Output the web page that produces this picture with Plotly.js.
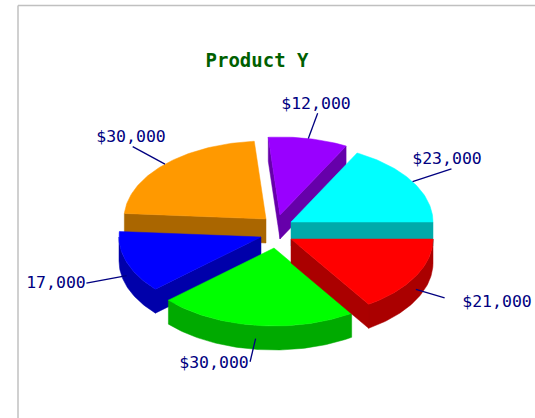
<!DOCTYPE html>
<html>
<head>
<meta charset="utf-8">
<script src="https://cdn.plot.ly/plotly-3.0.1.min.js"></script>
<style>html,body{margin:0;padding:0;background:#fff;overflow:hidden}#chart{width:535px;height:418px}</style>
</head>
<body>
<div id="chart"></div>
<script>
// ---- data, clockwise from the 3 o'clock direction ----
var categories = ['Red', 'Green', 'Blue', 'Orange', 'Purple', 'Cyan'];
var values = [21000, 30000, 17000, 30000, 12000, 23000];
var sliceLabels = ['$21,000', '$30,000', '17,000', '$30,000', '$12,000', '$23,000'];
var topColors = ['#ff0000', '#00ff00', '#0000ff', '#ff9900', '#9900ff', '#00ffff'];
var wallColors = ['#aa0000', '#00aa00', '#0000aa', '#aa6600', '#6600aa', '#00aaaa'];

// ---- pie geometry (in plot units, which equal pixels here) ----
var RX = 142, RY = 78, DEPTH = 24;
var apexX = [291, 274, 261, 266, 280, 291];
var apexY = [239, 248, 237, 219, 215, 222];
var labelX = [497, 214, 56, 131, 316, 447];
var labelY = [303, 364, 284, 138, 105, 160];
var leaderT = [0.23, 0.3, 0.3, 0.32, 0.33, 0.32];
var drawOrder = [3, 4, 5, 2, 1, 0];

var total = values.reduce(function (a, b) { return a + b; }, 0);
var starts = [], ends = [], acc = 0;
values.forEach(function (v) {
  starts.push(acc / total * 2 * Math.PI);
  acc += v;
  ends.push(acc / total * 2 * Math.PI);
});

function pt(i, a, dz) {
  return [apexX[i] + RX * Math.cos(a), apexY[i] + RY * Math.sin(a) + (dz || 0)];
}
function arc(i, a0, a1, dz) {
  var out = [], n = Math.max(2, Math.ceil(Math.abs(a1 - a0) / 0.02));
  for (var k = 0; k <= n; k++) out.push(pt(i, a0 + (a1 - a0) * k / n, dz));
  return out;
}
function polyTrace(polys, color) {
  var x = [], y = [];
  polys.forEach(function (p, idx) {
    if (idx) { x.push(null); y.push(null); }
    p.forEach(function (q) { x.push(q[0]); y.push(q[1]); });
    x.push(p[0][0]); y.push(p[0][1]);
  });
  return { type: 'scatter', mode: 'lines', x: x, y: y, fill: 'toself', fillcolor: color,
           line: { color: color, width: 0.5 }, hoverinfo: 'skip', showlegend: false };
}
function edgeWall(i, a) {
  var c = [apexX[i], apexY[i]], e = pt(i, a);
  return [c, e, [e[0], e[1] + DEPTH], [c[0], c[1] + DEPTH]];
}

var traces = [];
drawOrder.forEach(function (i) {
  var a0 = starts[i], a1 = ends[i], polys = [];
  if (Math.cos(a0) < 0) polys.push(edgeWall(i, a0));
  if (Math.cos(a1) > 0) polys.push(edgeWall(i, a1));
  var f0 = Math.max(a0, 0), f1 = Math.min(a1, Math.PI);
  if (f1 > f0) polys.push(arc(i, f0, f1).concat(arc(i, f1, f0, DEPTH)));
  if (polys.length) traces.push(polyTrace(polys, wallColors[i]));
  var top = [[apexX[i], apexY[i]]].concat(arc(i, a0, a1));
  var t = polyTrace([top], topColors[i]);
  t.name = categories[i];
  traces.push(t);
});

// leader lines, radial from each slice's mid angle
var lx = [], ly = [];
values.forEach(function (v, i) {
  var m = (starts[i] + ends[i]) / 2;
  var s = pt(i, m, Math.sin(m) > 0 ? DEPTH * 0.55 : 0);
  lx.push(s[0], s[0] + leaderT[i] * RX * Math.cos(m), null);
  ly.push(s[1], s[1] + leaderT[i] * RY * Math.sin(m), null);
});
traces.push({ type: 'scatter', mode: 'lines', x: lx, y: ly,
  line: { color: '#000080', width: 1.3 }, hoverinfo: 'skip', showlegend: false });

traces.push({ type: 'scatter', mode: 'text', x: labelX, y: labelY, text: sliceLabels,
  textposition: 'middle center',
  textfont: { family: '"DejaVu Sans Mono", monospace', size: 16.5, color: '#000080' },
  hoverinfo: 'skip', showlegend: false });

var layout = {
  width: 535, height: 418,
  margin: { l: 0, r: 0, t: 0, b: 0, pad: 0 },
  paper_bgcolor: '#ffffff', plot_bgcolor: '#ffffff',
  showlegend: false, hovermode: false,
  title: { text: '<b>Product Y</b>', x: 257 / 535, xref: 'paper', xanchor: 'center',
           y: 1 - 60 / 418, yref: 'paper', yanchor: 'middle',
           font: { family: '"DejaVu Sans Mono", monospace', size: 19, color: '#005f00' } },
  xaxis: { range: [0, 535], visible: false, fixedrange: true },
  yaxis: { range: [418, 0], visible: false, fixedrange: true },
  shapes: [
    { type: 'line', xref: 'x', yref: 'y', x0: 18, x1: 18, y0: 5.5, y1: 418, line: { color: '#c0c0c0', width: 1.5 } },
    { type: 'line', xref: 'x', yref: 'y', x0: 18, x1: 535, y0: 5.5, y1: 5.5, line: { color: '#c0c0c0', width: 1.5 } }
  ]
};
Plotly.newPlot('chart', traces, layout, { staticPlot: true, displayModeBar: false });
</script>
</body>
</html>
